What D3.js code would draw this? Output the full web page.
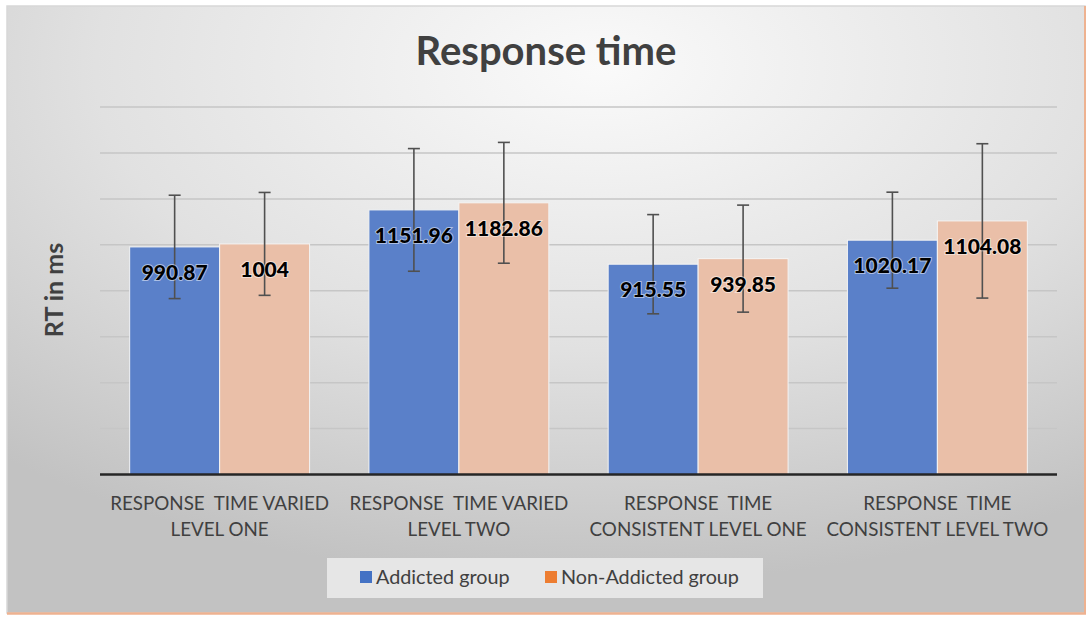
<!DOCTYPE html>
<html>
<head>
  <meta charset="utf-8">
  <script src="https://d3js.org/d3.v7.min.js"></script>
  <style>
    body { margin: 0; background: #fff; }
    text { font-family: Lato, "Open Sans", sans-serif; }
    .grid line { stroke: #c6c6c6; stroke-width: 1.5px; }
    .err { stroke: #505050; stroke-width: 1.6px; }
  </style>
</head>
<body>
<script>
  var width = 1092,
      height = 619;

  // values
  var categories = [
    ["RESPONSE  TIME VARIED", "LEVEL ONE"],
    ["RESPONSE  TIME VARIED", "LEVEL TWO"],
    ["RESPONSE  TIME", "CONSISTENT LEVEL ONE"],
    ["RESPONSE  TIME", "CONSISTENT LEVEL TWO"]
  ];
  var seriesNames = ["Addicted group", "Non-Addicted group"];
  var addicted = [990.87, 1151.96, 915.55, 1020.17];
  var nonAddicted = [1004, 1182.86, 939.85, 1104.08];
  var addictedErr = [225, 267, 216, 209];
  var nonAddictedErr = [224, 263, 233, 336];
  var gridTicks = [200, 400, 600, 800, 1000, 1200, 1400, 1600];

  var barColors = ["#5a80c9", "#eabfa8"];
  var legendColors = ["#4472c4", "#ed7d31"];

  var svg = d3.select("body").append("svg")
      .attr("width", width)
      .attr("height", height);

  var defs = svg.append("defs");
  var grad = defs.append("radialGradient")
      .attr("id", "bg")
      .attr("cx", "55%").attr("cy", "10%").attr("r", "85%");
  grad.append("stop").attr("offset", "0%").attr("stop-color", "#fafafa");
  grad.append("stop").attr("offset", "55%").attr("stop-color", "#e1e1e1");
  grad.append("stop").attr("offset", "100%").attr("stop-color", "#c2c2c2");

  // chart frame
  svg.append("rect")
      .attr("x", 7).attr("y", 6)
      .attr("width", 1078).attr("height", 607)
      .attr("fill", "url(#bg)")
      .attr("stroke", "#d8d8d8")
      .attr("stroke-width", 1.5);
  svg.append("line")
      .attr("x1", 1085).attr("x2", 1085).attr("y1", 6).attr("y2", 614)
      .attr("stroke", "#eeb290").attr("stroke-width", 2);
  svg.append("line")
      .attr("x1", 7).attr("x2", 1086).attr("y1", 613.5).attr("y2", 613.5)
      .attr("stroke", "#eeb290").attr("stroke-width", 2.5);

  var x0 = d3.scaleBand()
      .domain(d3.range(categories.length))
      .range([100, 1057])
      .paddingInner(0.248)
      .paddingOuter(0.124);

  var x1 = d3.scaleBand()
      .domain([0, 1])
      .range([0, x0.bandwidth()]);

  var y = d3.scaleLinear()
      .domain([0, 1600])
      .range([474.5, 107]);

  // gridlines
  svg.append("g")
      .attr("class", "grid")
      .selectAll("line")
      .data(gridTicks)
      .enter().append("line")
      .attr("x1", 100).attr("x2", 1057)
      .attr("y1", function(d) { return y(d); })
      .attr("y2", function(d) { return y(d); });

  var rows = [];
  for (var i = 0; i < categories.length; i++) {
    rows.push({ cat: i, s: 0, value: addicted[i], err: addictedErr[i] });
    rows.push({ cat: i, s: 1, value: nonAddicted[i], err: nonAddictedErr[i] });
  }

  var bars = svg.append("g").selectAll("g")
      .data(rows)
      .enter().append("g")
      .attr("transform", function(d) { return "translate(" + (x0(d.cat) + x1(d.s)) + ",0)"; });

  bars.append("rect")
      .attr("y", function(d) { return y(d.value); })
      .attr("width", x1.bandwidth())
      .attr("height", function(d) { return y(0) - y(d.value); })
      .attr("fill", function(d) { return barColors[d.s]; })
      .attr("stroke", "#f4f4f4")
      .attr("stroke-width", 1);

  // error bars
  var cx = x1.bandwidth() / 2;
  bars.append("line")
      .attr("class", "err")
      .attr("x1", cx).attr("x2", cx)
      .attr("y1", function(d) { return y(d.value + d.err); })
      .attr("y2", function(d) { return y(d.value - d.err); });
  bars.append("line")
      .attr("class", "err")
      .attr("x1", cx - 6).attr("x2", cx + 6)
      .attr("y1", function(d) { return y(d.value + d.err); })
      .attr("y2", function(d) { return y(d.value + d.err); });
  bars.append("line")
      .attr("class", "err")
      .attr("x1", cx - 6).attr("x2", cx + 6)
      .attr("y1", function(d) { return y(d.value - d.err); })
      .attr("y2", function(d) { return y(d.value - d.err); });

  // value labels
  bars.append("text")
      .attr("x", cx)
      .attr("y", function(d) { return y(d.value) + 33; })
      .attr("text-anchor", "middle")
      .attr("font-size", "21px")
      .attr("font-weight", "900")
      .attr("fill", "#000")
      .attr("stroke", "rgba(255,255,255,0.5)")
      .attr("stroke-width", 2)
      .attr("paint-order", "stroke")
      .text(function(d) { return d.value; });

  // baseline
  svg.append("line")
      .attr("x1", 100).attr("x2", 1057)
      .attr("y1", y(0)).attr("y2", y(0))
      .attr("stroke", "#262626")
      .attr("stroke-width", 2.5);

  // category labels
  var catLabels = svg.append("g").selectAll("text")
      .data(categories)
      .enter().append("text")
      .attr("text-anchor", "middle")
      .attr("font-size", "18.8px")
      .attr("fill", "#404040")
      .style("white-space", "pre");
  catLabels.each(function(d, i) {
    var t = d3.select(this);
    d.forEach(function(line, j) {
      t.append("tspan")
          .attr("x", x0(i) + x0.bandwidth() / 2)
          .attr("y", 510 + j * 26)
          .text(line);
    });
  });

  // title
  svg.append("text")
      .attr("x", 546)
      .attr("y", 65)
      .attr("text-anchor", "middle")
      .attr("font-size", "40px")
      .attr("font-weight", "bold")
      .attr("fill", "#404040")
      .text("Response time");

  // y-axis label
  svg.append("text")
      .attr("transform", "translate(63,290) rotate(-90)")
      .attr("text-anchor", "middle")
      .attr("font-size", "25px")
      .attr("font-weight", "bold")
      .attr("fill", "#404040")
      .text("RT in ms");

  // legend
  var legend = svg.append("g");
  legend.append("rect")
      .attr("x", 327).attr("y", 558)
      .attr("width", 436).attr("height", 40)
      .attr("fill", "#e6e6e6");
  var legendX = [360, 545];
  seriesNames.forEach(function(name, i) {
    legend.append("rect")
        .attr("x", legendX[i]).attr("y", 571)
        .attr("width", 12).attr("height", 12)
        .attr("fill", legendColors[i]);
    legend.append("text")
        .attr("x", legendX[i] + 16)
        .attr("y", 584)
        .attr("font-size", "19.8px")
        .attr("fill", "#404040")
        .text(name);
  });
</script>
</body>
</html>
